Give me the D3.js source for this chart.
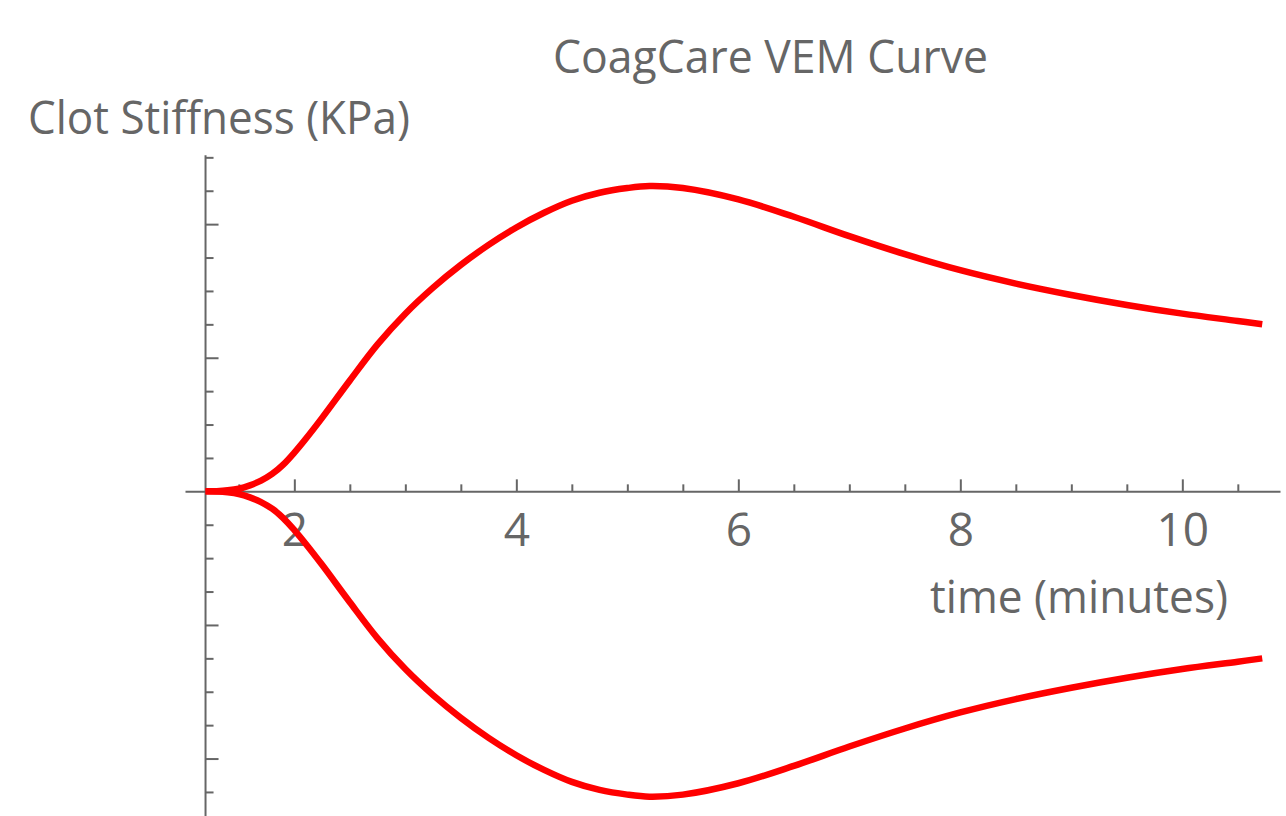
<!DOCTYPE html>
<html>
<head>
<meta charset="utf-8">
<script src="https://cdn.jsdelivr.net/npm/d3@7"></script>
<style>
  html, body { margin: 0; padding: 0; background: #fff; }
  svg text { font-family: "Open Sans", "Noto Sans", sans-serif; fill: #666; }
</style>
</head>
<body>
<div id="chart"></div>
<script>
// values (time in minutes, stiffness in arbitrary units, 20 per major tick)
const timeMin   = [1.20, 1.30, 1.40, 1.50, 1.60, 1.70, 1.80, 1.90, 2.00, 2.10, 2.25, 2.50, 2.75, 3.00, 3.25, 3.50, 3.75, 4.00, 4.25, 4.50, 4.75, 5.00, 5.20, 5.50, 6.00, 6.50, 7.00, 7.50, 8.00, 8.50, 9.00, 9.50, 10.00, 10.50, 10.72];
const stiffness = [0.0, 0.03, 0.15, 0.4, 0.9, 1.6, 2.6, 4.0, 5.8, 7.8, 11.0, 16.6, 22.0, 26.6, 30.5, 33.9, 36.9, 39.5, 41.7, 43.5, 44.7, 45.4, 45.7, 45.4, 43.7, 41.1, 38.2, 35.5, 33.1, 31.1, 29.4, 27.9, 26.6, 25.5, 25.0];

const xMajor = [2, 4, 6, 8, 10];
const xMinor = [1.5, 2.5, 3, 3.5, 4.5, 5, 5.5, 6.5, 7, 7.5, 8.5, 9, 9.5, 10.5];
const yMajor = [-40, -20, 20, 40];
const yMinor = [-45, -35, -30, -25, -15, -10, -5, 5, 10, 15, 25, 30, 35, 45, 50];
const yAxisAt = 1.2;

const title = "CoagCare VEM Curve";
const yLabel = "Clot Stiffness (KPa)";
const xLabel = "time (minutes)";

const width = 1286, height = 816;
const axisColor = "#666";

const svg = d3.select("#chart").append("svg")
    .attr("width", width)
    .attr("height", height);

const x = d3.scaleLinear().domain([1.015, 10.88]).range([185, 1280]);
const y = d3.scaleLinear().domain([-48.6, 50.2]).range([816, 156]);

// x axis: ticks pointing up, labels below
const xAxisG = svg.append("g").attr("transform", `translate(0,${y(0)})`);
xAxisG.call(d3.axisBottom(x).tickValues(xMinor).tickSize(-7).tickSizeOuter(0).tickFormat(""));
const xMajorG = svg.append("g").attr("transform", `translate(0,${y(0)})`);
xMajorG.call(d3.axisBottom(x).tickValues(xMajor).tickSize(-12).tickSizeOuter(0).tickPadding(22).tickFormat(d3.format("d")));
xMajorG.select(".domain").remove();

// y axis: ticks pointing right, no labels
const yAxisG = svg.append("g").attr("transform", `translate(${x(yAxisAt)},0)`);
yAxisG.call(d3.axisRight(y).tickValues(yMinor).tickSize(8).tickSizeOuter(0).tickFormat(""));
const yMajorG = svg.append("g").attr("transform", `translate(${x(yAxisAt)},0)`);
yMajorG.call(d3.axisRight(y).tickValues(yMajor).tickSize(13).tickSizeOuter(0).tickFormat(""));
yMajorG.select(".domain").remove();
yAxisG.select(".domain").attr("d", `M0,${y(50.3)}V${height}`);

svg.selectAll(".domain, .tick line")
    .attr("stroke", axisColor)
    .attr("stroke-width", 2);
svg.selectAll(".tick text")
    .attr("font-size", 46)
    .attr("fill", axisColor)
    .attr("dy", "0.72em");

// curves (upper trace and its mirror)
const upper = timeMin.map((t, i) => [t, stiffness[i]]);
const lower = timeMin.map((t, i) => [t, -stiffness[i]]);
const line = d3.line()
    .x(d => x(d[0]))
    .y(d => y(d[1]))
    .curve(d3.curveCatmullRom.alpha(0.5));

svg.selectAll(".trace")
    .data([upper, lower])
    .enter().append("path")
    .attr("class", "trace")
    .attr("d", line)
    .attr("fill", "none")
    .attr("stroke", "#ff0000")
    .attr("stroke-width", 6.5);

// texts
svg.append("text")
    .attr("x", 553).attr("y", 73)
    .attr("font-size", 46)
    .attr("textLength", 435).attr("lengthAdjust", "spacingAndGlyphs")
    .text(title);

svg.append("text")
    .attr("x", 28).attr("y", 134)
    .attr("font-size", 46)
    .attr("textLength", 382).attr("lengthAdjust", "spacingAndGlyphs")
    .text(yLabel);

svg.append("text")
    .attr("x", 930).attr("y", 613)
    .attr("font-size", 46)
    .attr("textLength", 298).attr("lengthAdjust", "spacingAndGlyphs")
    .text(xLabel);
</script>
</body>
</html>
